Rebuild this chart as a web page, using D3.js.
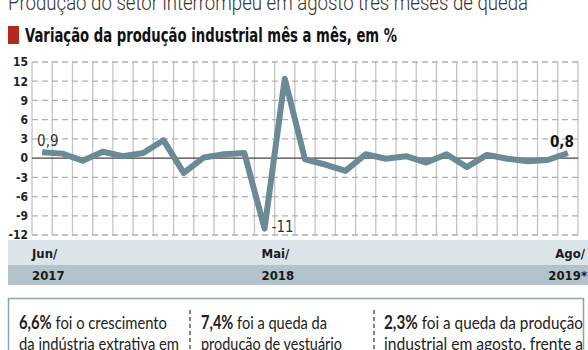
<!DOCTYPE html>
<html>
<head>
<meta charset="utf-8">
<script src="https://cdn.jsdelivr.net/npm/d3@7"></script>
<style>
  body { margin: 0; background: #fff; }
  svg text { font-family: "DejaVu Sans Condensed", "Roboto", sans-serif; }
</style>
</head>
<body>
<svg id="chart" width="588" height="350"></svg>
<script>
// months from Jun/2017 to Ago/2019
const months = ["jun17","jul17","ago17","set17","out17","nov17","dez17",
    "jan18","fev18","mar18","abr18","mai18","jun18","jul18","ago18","set18","out18","nov18","dez18",
    "jan19","fev19","mar19","abr19","mai19","jun19","jul19","ago19"];
const values = [0.9, 0.7, -0.4, 1.0, 0.3, 0.8, 2.8,
    -2.3, 0.1, 0.6, 0.8, -11.0, 12.4, -0.2, -1.0, -2.0, 0.6, -0.1, 0.3,
    -0.7, 0.6, -1.4, 0.5, -0.1, -0.5, -0.3, 0.8];
const yTicks = [15, 12, 9, 6, 3, 0, -3, -6, -9, -12];
const tickMonths = ["jun17", "mai18", "ago19"];
const tickTop = ["Jun/", "Mai/", "Ago/"];
const tickBottom = ["2017", "2018", "2019*"];
const pointLabels = [
    { month: "jun17", text: "0,9" },
    { month: "mai18", text: "-11" },
    { month: "ago19", text: "0,8" }
];
const boxBold = ["6,6%", "7,4%", "2,3%"];
const boxLine1 = [" foi o crescimento", " foi a queda da", " foi a queda da produção"];
const boxLine2 = ["da indústria extrativa em", "produção de vestuário", "industrial  em agosto, frente a"];

const svg = d3.select("#chart");
const data = months.map((m, i) => ({ month: m, value: values[i] }));

const x = d3.scaleBand().domain(months).range([32, 578]).padding(0);
const y = d3.scaleLinear().domain([-12, 15]).range([235, 62]);
const cx = d => x(d) + x.bandwidth() / 2;

// header (fonts here are wider than the original condensed face, so squeeze them)
svg.append("text")
    .attr("x", 8).attr("y", 10)
    .attr("font-size", 22).attr("fill", "#333")
    .style("font-family", "Roboto, sans-serif").attr("font-weight", 300)
    .attr("textLength", 520).attr("lengthAdjust", "spacingAndGlyphs")
    .text("Produção do setor interrompeu em agosto três meses de queda");

svg.append("rect")
    .attr("x", 8).attr("y", 26).attr("width", 11).attr("height", 18)
    .attr("fill", "#b5281c");

svg.append("text")
    .attr("x", 25).attr("y", 42)
    .attr("font-size", 19).attr("font-weight", "bold").attr("fill", "#111")
    .attr("textLength", 372).attr("lengthAdjust", "spacingAndGlyphs")
    .text("Variação da produção industrial mês a mês, em %");

// grid
const grid = svg.append("g");
grid.selectAll(".vline")
    .data(months.concat(["end"]))
    .join("line")
    .attr("x1", (d, i) => i < months.length ? x(d) : x.range()[1])
    .attr("x2", (d, i) => i < months.length ? x(d) : x.range()[1])
    .attr("y1", y(15)).attr("y2", y(-12))
    .attr("stroke", "#c4c4c4").attr("stroke-width", 1.3);

grid.selectAll(".hline")
    .data(yTicks.filter(d => d !== 0))
    .join("line")
    .attr("x1", x.range()[0]).attr("x2", x.range()[1])
    .attr("y1", d => y(d)).attr("y2", d => y(d))
    .attr("stroke", "#b0b0b0").attr("stroke-width", 1.3)
    .attr("stroke-dasharray", "6,4");

grid.append("line")
    .attr("x1", x.range()[0]).attr("x2", x.range()[1])
    .attr("y1", y(0)).attr("y2", y(0))
    .attr("stroke", "#4a4040").attr("stroke-width", 1.2);

// y axis labels
const yAxis = d3.axisLeft(y).tickValues(yTicks).tickSize(0).tickPadding(4)
    .tickFormat(d => String(d));
svg.append("g")
    .attr("transform", `translate(${x.range()[0]},0)`)
    .call(yAxis)
    .call(g => g.select(".domain").remove())
    .call(g => g.selectAll("text")
        .attr("font-size", 12).attr("font-weight", "bold").attr("fill", "#222")
        .style("font-family", "'DejaVu Sans Condensed', sans-serif"));

// line
const line = d3.line().x(d => cx(d.month)).y(d => y(d.value));
svg.append("path")
    .datum(data)
    .attr("d", line)
    .attr("fill", "none")
    .attr("stroke", "#6a8a96")
    .attr("stroke-width", 6)
    .attr("stroke-linejoin", "round")
    .attr("stroke-linecap", "butt");

// point labels
const vOf = m => values[months.indexOf(m)];
svg.append("text")
    .attr("x", cx(pointLabels[0].month) - 5).attr("y", y(vOf(pointLabels[0].month)) - 6)
    .attr("font-size", 15).attr("fill", "#333")
    .text(pointLabels[0].text);
svg.append("text")
    .attr("x", cx(pointLabels[1].month) + 7).attr("y", y(vOf(pointLabels[1].month)) + 3)
    .attr("font-size", 15).attr("fill", "#333")
    .text(pointLabels[1].text);
svg.append("text")
    .attr("x", cx(pointLabels[2].month) + 6).attr("y", y(vOf(pointLabels[2].month)) - 6)
    .attr("text-anchor", "end")
    .attr("font-size", 15).attr("font-weight", "bold").attr("fill", "#111")
    .text(pointLabels[2].text);

// x axis bands
svg.append("rect").attr("x", 8).attr("y", 240).attr("width", 580).attr("height", 25).attr("fill", "#dbe4e9");
svg.append("rect").attr("x", 8).attr("y", 265).attr("width", 580).attr("height", 20).attr("fill", "#b3c3cb");

const tickX = [x(tickMonths[0]), cx(tickMonths[1]) - 3, 585];
const tickAnchor = ["start", "start", "end"];
tickTop.forEach((t, i) => {
    svg.append("text")
        .attr("x", tickX[i]).attr("y", 258)
        .attr("text-anchor", tickAnchor[i])
        .attr("font-size", 13).attr("font-weight", "bold").attr("fill", "#1a1a1a")
        .text(t);
    svg.append("text")
        .attr("x", tickX[i] + (i === 2 ? 2 : 0)).attr("y", 280)
        .attr("text-anchor", tickAnchor[i])
        .attr("font-size", 13).attr("font-weight", "bold").attr("fill", "#1a1a1a")
        .text(tickBottom[i]);
});

// bottom box
svg.append("rect")
    .attr("x", 8.5).attr("y", 298.5).attr("width", 575).attr("height", 60)
    .attr("fill", "none").attr("stroke", "#8ea3ad").attr("stroke-width", 1.5);

const colX = [19, 201, 384];
const line1W = [148, 126, 199];
const line2W = [160, 141, 199];
[190, 374].forEach(sx => {
    svg.append("line")
        .attr("x1", sx).attr("x2", sx).attr("y1", 310).attr("y2", 350)
        .attr("stroke", "#333").attr("stroke-width", 1.2).attr("stroke-dasharray", "4,3");
});
colX.forEach((cxp, i) => {
    const t1 = svg.append("text").attr("x", cxp).attr("y", 329)
        .attr("font-size", 18).attr("fill", "#222")
        .style("font-family", "Lato, 'Open Sans', sans-serif")
        .attr("textLength", line1W[i]).attr("lengthAdjust", "spacingAndGlyphs");
    t1.append("tspan").attr("font-weight", "bold").text(boxBold[i]);
    t1.append("tspan").text(boxLine1[i]);
    svg.append("text").attr("x", cxp).attr("y", 350)
        .attr("font-size", 18).attr("fill", "#222")
        .style("font-family", "Lato, 'Open Sans', sans-serif")
        .attr("textLength", line2W[i]).attr("lengthAdjust", "spacingAndGlyphs")
        .text(boxLine2[i]);
});
</script>
</body>
</html>
